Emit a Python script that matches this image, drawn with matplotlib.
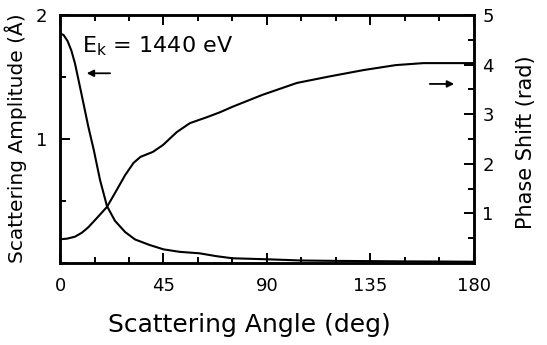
import matplotlib.pyplot as plt
from matplotlib.ticker import MultipleLocator, FixedLocator, FormatStrFormatter

# scattering amplitude (left axis)
angle_amp = [0, 1.5, 3.3, 5, 6.5, 8, 9.6, 12.3, 14.7, 17.4, 20.4, 23.9, 28.3, 32.6,
             39, 45, 52, 60.7, 68, 75, 90, 105, 120, 135, 150, 165, 180]
amp = [1.85, 1.84, 1.79, 1.71, 1.61, 1.48, 1.34, 1.10, 0.91, 0.67, 0.46, 0.34, 0.25, 0.19,
       0.145, 0.11, 0.09, 0.078, 0.055, 0.038, 0.03, 0.02, 0.017, 0.015, 0.013, 0.012, 0.01]

# phase shift (right axis)
angle_phase = [0, 3, 6.5, 9.5, 12.3, 16.5, 20.4, 23.9, 28.3, 32, 35, 40.4, 44.8, 50.8,
               56.5, 63.9, 69.6, 75, 88, 103, 117, 132, 146, 158, 170, 180]
phase = [0.48, 0.49, 0.53, 0.61, 0.72, 0.93, 1.13, 1.41, 1.77, 2.02, 2.14, 2.24, 2.38, 2.64,
         2.82, 2.94, 3.04, 3.15, 3.39, 3.63, 3.76, 3.89, 3.99, 4.03, 4.03, 4.03]

x_ticks = [0, 45, 90, 135, 180]
amp_ticks = [1, 2]
phase_ticks = [1, 2, 3, 4, 5]

fig = plt.figure(figsize=(5.47, 3.45), dpi=100)
ax = fig.add_axes([0.1097, 0.2377, 0.7568, 0.7188])
ax2 = ax.twinx()

ax.plot(angle_amp, amp, color="black", lw=1.5)
ax2.plot(angle_phase, phase, color="black", lw=1.5)

ax.set_xlim(0, 180)
ax.set_ylim(0, 2)
ax2.set_ylim(0, 5)

ax.xaxis.set_major_locator(FixedLocator(x_ticks))
ax.xaxis.set_minor_locator(MultipleLocator(15))
ax.yaxis.set_major_locator(FixedLocator(amp_ticks))
ax.yaxis.set_minor_locator(MultipleLocator(0.5))
ax2.yaxis.set_major_locator(FixedLocator(phase_ticks))
ax2.yaxis.set_minor_locator(MultipleLocator(0.5))
ax.xaxis.set_major_formatter(FormatStrFormatter("%d"))
ax.yaxis.set_major_formatter(FormatStrFormatter("%d"))
ax2.yaxis.set_major_formatter(FormatStrFormatter("%d"))

for a in (ax, ax2):
    for s in a.spines.values():
        s.set_linewidth(1.8)
ax.tick_params(which="both", direction="in", top=True, right=False, width=1.4, labelsize=13)
ax.tick_params(which="major", length=7)
ax.tick_params(which="minor", length=4)
ax.tick_params(axis="x", pad=10)
ax.tick_params(axis="y", pad=9)
ax2.tick_params(which="both", direction="in", width=1.4, labelsize=13, pad=6)
ax2.tick_params(which="major", length=7)
ax2.tick_params(which="minor", length=4)

fig.text(16 / 547, 1 - 138 / 345, "Scattering Amplitude (Å)", fontsize=14.5,
         rotation=90, ha="center", va="center")
fig.text(526 / 547, 1 - 142 / 345, "Phase Shift (rad)", fontsize=15,
         rotation=90, ha="center", va="center")
fig.text(249 / 547, 1 - 325 / 345, "Scattering Angle (deg)", fontsize=18,
         ha="center", va="center")

ax.text(9.6, 1.70, r"E$_\mathregular{k}$ = 1440 eV", fontsize=16, ha="left", va="baseline")
ax.annotate("", xy=(10.4, 1.53), xytext=(23, 1.53),
            arrowprops=dict(arrowstyle="-|>", color="black", lw=1.3, mutation_scale=10))
ax2.annotate("", xy=(172.6, 3.61), xytext=(159.6, 3.61),
             arrowprops=dict(arrowstyle="-|>", color="black", lw=1.3, mutation_scale=10))

fig.savefig("out.png", dpi=100)
